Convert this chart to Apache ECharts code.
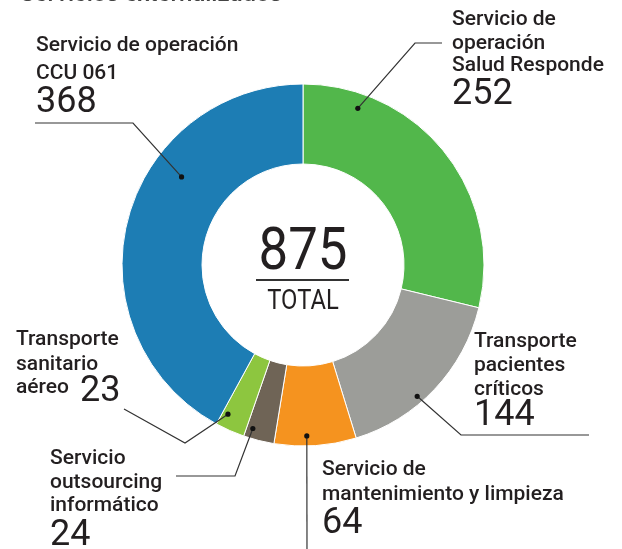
<!DOCTYPE html>
<html>
<head>
<meta charset="utf-8">
<script src="https://cdn.jsdelivr.net/npm/echarts@6/dist/echarts.min.js"></script>
<style>
  html, body { margin: 0; padding: 0; background: #fff; }
  #main { width: 622px; height: 549px; }
</style>
</head>
<body>
<div id="main"></div>
<script>
// slices, clockwise from 12 o'clock
var categories = [
  "Servicio de operación Salud Responde",
  "Transporte pacientes críticos",
  "Servicio de mantenimiento y limpieza",
  "Servicio outsourcing informático",
  "Transporte sanitario aéreo",
  "Servicio de operación CCU 061"
];
var values = [252, 144, 64, 24, 23, 368];
var colors = ["#52b74b", "#9c9d99", "#f5931f", "#6f6456", "#8dc63f", "#1d7db4"];
var labelLines = [
  ["Servicio de", "operación", "Salud Responde"],
  ["Transporte", "pacientes", "críticos"],
  ["Servicio de", "mantenimiento y limpieza"],
  ["Servicio", "outsourcing", "informático"],
  ["Transporte", "sanitario", "aéreo"],
  ["Servicio de operación", "CCU 061"]
];
var totalLabel = "TOTAL";
var titleText = "Servicios externalizados";

var CX = 303, CY = 265, R0 = 101, R1 = 181;
var FONT = "Roboto, 'Noto Sans', sans-serif";
var INK = "#231f20";

// where each label sits (layout only)
var labelLayout = [
  { x: 452, base: [27, 51, 73], numX: 452, numBase: 108, at: 0.186, r: 166, path: [[415, 43], [442, 43]] },
  { x: 474, base: [349, 373, 397], numX: 474, numBase: 429, at: 0.596, r: 174, path: [[461, 435], [589, 435]] },
  { x: 322, base: [477, 502], numX: 322, numBase: 537, at: 0.6, r: 171, path: [[307, 549]] },
  { x: 50, base: [466, 490, 513], numX: 50, numBase: 549, at: 0.79, r: 171, path: [[235, 476], [176, 476]] },
  { x: 16, base: [347, 372, 395], numX: 80, numBase: 405, at: 0.8, r: 167, path: [[185, 443], [124, 409]] },
  { x: 36, base: [53, 81], numX: 36, numBase: 116, at: 0.643, r: 150, path: [[133, 123], [35, 123]] }
];

function textAt(x, baseline, str, size, weight, color) {
  return {
    type: "text",
    x: x,
    y: baseline - 0.36 * size,
    style: {
      text: str,
      x: 0,
      y: 0,
      font: (weight || 400) + " " + size + "px " + FONT,
      fill: color || INK,
      align: "left",
      verticalAlign: "middle"
    },
    z: 10
  };
}

var total = values.reduce(function (a, b) { return a + b; }, 0);
var graphics = [];

// title, cut by the top edge
graphics.push(textAt(20, 4, titleText, 24, 500, "#444"));

var start = 0;
for (var i = 0; i < values.length; i++) {
  var span = values[i] / total * 360;
  var L = labelLayout[i];
  var th = (start + L.at * span) * Math.PI / 180;
  var dot = [CX + L.r * Math.sin(th), CY - L.r * Math.cos(th)];
  var pts = [dot].concat(L.path);
  graphics.push({
    type: "polyline",
    shape: { points: pts },
    style: { stroke: "#333", lineWidth: 1.2, fill: null },
    z: 5
  });
  graphics.push({
    type: "circle",
    shape: { cx: dot[0], cy: dot[1], r: 2.6 },
    style: { fill: "#111" },
    z: 6
  });
  for (var k = 0; k < labelLines[i].length; k++) {
    graphics.push(textAt(L.x, L.base[k], labelLines[i][k], 21, 500));
  }
  graphics.push(textAt(L.numX, L.numBase, String(values[i]), 36, 400));
  start += span;
}

// centre total
graphics.push({
  type: "text",
  x: CX,
  y: 254,
  scaleX: 0.88,
  style: {
    text: String(total),
    x: 0, y: 0,
    font: "400 60px " + FONT,
    fill: INK,
    align: "center",
    verticalAlign: "middle"
  },
  z: 10
});
graphics.push({
  type: "rect",
  shape: { x: 256, y: 279, width: 93, height: 2 },
  style: { fill: "#333" },
  z: 10
});
graphics.push({
  type: "text",
  x: CX,
  y: 302,
  scaleX: 0.85,
  style: {
    text: totalLabel,
    x: 0, y: 0,
    font: "400 28px " + FONT,
    fill: INK,
    align: "center",
    verticalAlign: "middle"
  },
  z: 10
});

var chart = echarts.init(document.getElementById("main"));
chart.setOption({
  animation: false,
  backgroundColor: "#fff",
  series: [
    {
      type: "pie",
      center: [CX, CY],
      radius: [R0, R1],
      startAngle: 90,
      clockwise: true,
      silent: true,
      label: { show: false },
      labelLine: { show: false },
      itemStyle: { borderColor: "#fff", borderWidth: 1 },
      data: categories.map(function (c, i) {
        return { name: c, value: values[i], itemStyle: { color: colors[i] } };
      })
    }
  ],
  graphic: graphics
});
</script>
</body>
</html>
